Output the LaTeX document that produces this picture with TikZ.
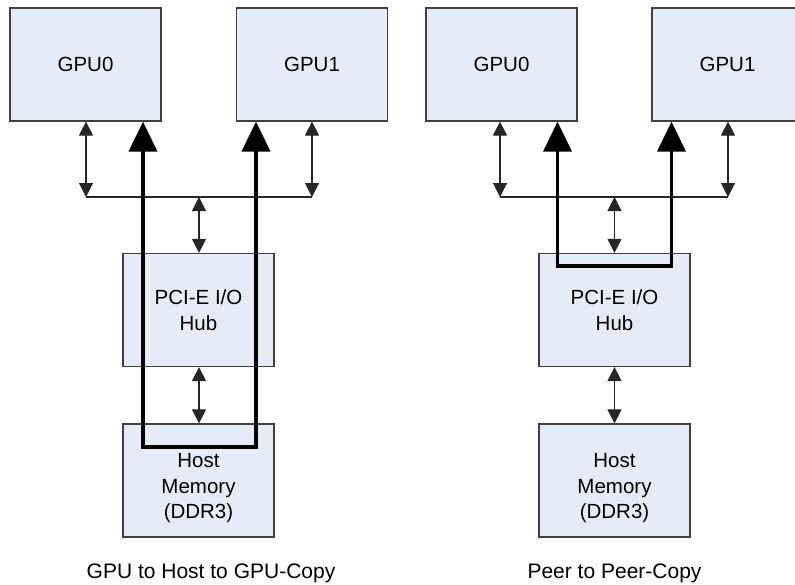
\documentclass[tikz,border=0pt]{standalone}
\usepackage{fontspec}
\setmainfont{Liberation Sans}
\usetikzlibrary{arrows.meta}
\definecolor{boxfill}{HTML}{E6ECF6}
\definecolor{boxline}{HTML}{404040}
\tikzset{
  unit/.style={draw=boxline, fill=boxfill, line width=1.2pt, minimum width=151pt, minimum height=113pt, inner sep=0pt, align=center, font=\fontsize{20.5}{25.5}\selectfont},
  lbl/.style={inner sep=0pt, align=center, font=\fontsize{20.5}{25.5}\selectfont},
  captext/.style={inner sep=0pt, anchor=base, font=\fontsize{21}{25}\selectfont},
  busline/.style={draw=black!85, line width=1.1pt},
  duplex/.style={draw=black!85, line width=1.1pt, {Triangle[length=14pt,width=14pt]}-{Triangle[length=14pt,width=14pt]}},
  copypath/.style={draw=black, line width=3.8pt, line join=miter, {Triangle[length=30pt,width=28pt]}-{Triangle[length=30pt,width=28pt]}}
}
\begin{document}
\begin{tikzpicture}[x=1pt,y=-1pt]
\useasboundingbox (0,0) rectangle (795,584);
\clip (0,0) rectangle (795,584);
% ---------- left panel ----------
\node[unit] (Lg0) at (85.5,64.5) {GPU0};
\node[unit] (Lg1) at (312,64.5) {GPU1};
\node[unit] (Lhub) at (198.5,310) {PCI-E I/O\\Hub};
\node[unit] (Lmem) at (198.5,480.5) {};
\node[lbl] (Lmemt) at (198.5,488.3) {Host\\Memory\\(DDR3)};
\coordinate (Lb0) at (86,197);
\coordinate (Lb1) at (312,197);
\coordinate (Lbc) at (199,197);
\draw[busline] (Lb0) -- (Lb1);
\draw[duplex] (Lg0.south -| Lb0) -- (Lb0);
\draw[duplex] (Lg1.south -| Lb1) -- (Lb1);
\draw[duplex] (Lbc) -- (Lhub.north -| Lbc);
\draw[duplex] (Lhub.south -| Lbc) -- (Lmem.north -| Lbc);
\coordinate (Lt0) at (143,447);
\coordinate (Lt1) at (256,447);
\draw[copypath] (Lg0.south -| Lt0) -- (Lt0) -- (Lt1) -- (Lg1.south -| Lt1);
\node[captext] (Lcap) at (211,578.5) {GPU to Host to GPU-Copy};
% ---------- right panel ----------
\node[unit] (Rg0) at (501.5,64.5) {GPU0};
\node[unit] (Rg1) at (727.5,64.5) {GPU1};
\node[unit] (Rhub) at (614.5,310) {PCI-E I/O\\Hub};
\node[unit] (Rmem) at (614.5,480.5) {};
\node[lbl] (Rmemt) at (614.5,488.3) {Host\\Memory\\(DDR3)};
\coordinate (Rb0) at (500,197);
\coordinate (Rb1) at (728,197);
\coordinate (Rbc) at (614.5,197);
\draw[busline] (Rb0) -- (Rb1);
\draw[duplex] (Rg0.south -| Rb0) -- (Rb0);
\draw[duplex] (Rg1.south -| Rb1) -- (Rb1);
\draw[duplex] (Rbc) -- (Rhub.north -| Rbc);
\draw[duplex] (Rhub.south -| Rbc) -- (Rmem.north -| Rbc);
\coordinate (Rt0) at (557.5,266);
\coordinate (Rt1) at (671.5,266);
\draw[copypath] (Rg0.south -| Rt0) -- (Rt0) -- (Rt1) -- (Rg1.south -| Rt1);
\node[captext] (Rcap) at (614.5,578.5) {Peer to Peer-Copy};
\end{tikzpicture}
\end{document}
